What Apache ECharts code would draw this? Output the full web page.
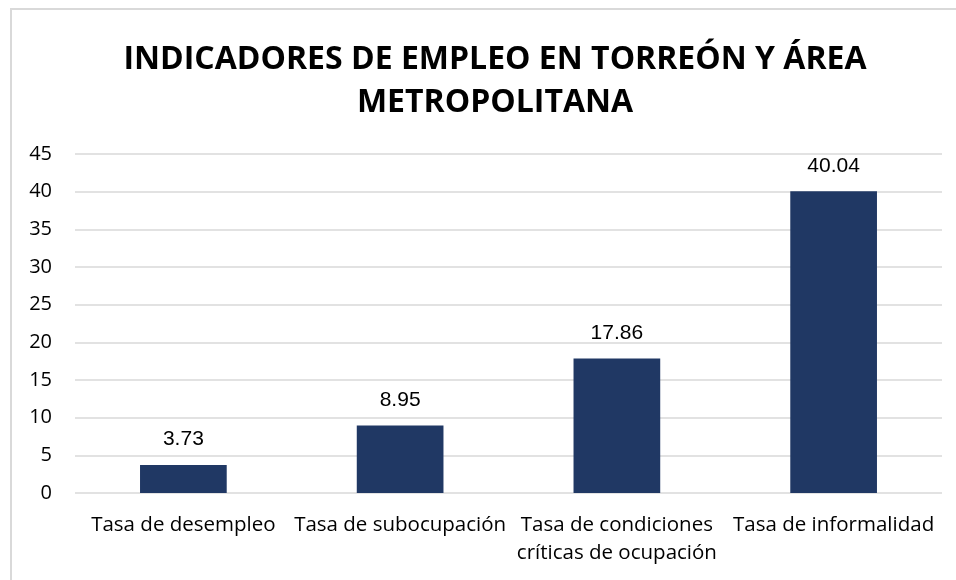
<!DOCTYPE html>
<head>
    <meta charset="utf-8">
    <title>ECharts</title>
    <script type="text/javascript" src="https://cdn.jsdelivr.net/npm/echarts@6/dist/echarts.min.js"></script>
    <style>
        body { margin: 0; background: #fff; }
        #main { width: 956px; height: 580px; }
    </style>
</head>

<body>
<div id="main"></div>

<script type="text/javascript">
    // datos del gráfico
    var categorias = ['Tasa de desempleo', 'Tasa de subocupación', 'Tasa de condiciones\ncríticas de ocupación', 'Tasa de informalidad'];
    var valores = [3.73, 8.95, 17.86, 40.04];

    var myChart = echarts.init(document.getElementById('main'));
    var option = {
        backgroundColor: '#fff',
        // marco gris del gráfico
        graphic: [{
            type: 'rect',
            shape: { x: 11, y: 9, width: 960, height: 600 },
            style: { fill: 'none', stroke: '#d9d9d9', lineWidth: 2 },
            silent: true
        }],
        title: {
            text: 'INDICADORES DE EMPLEO EN TORREÓN Y ÁREA\nMETROPOLITANA',
            left: 490,
            top: 33,
            textAlign: 'center',
            textStyle: {
                fontFamily: 'Open Sans',
                fontWeight: 'bold',
                fontSize: 32,
                lineHeight: 43,
                color: '#000'
            }
        },
        grid: {
            left: 75,
            right: 14,
            top: 154,
            bottom: 87
        },
        xAxis: {
            type: 'category',
            data: categorias,
            axisLine: { show: false },
            axisTick: { show: false },
            axisLabel: {
                fontFamily: 'Open Sans',
                fontSize: 20.5,
                color: '#000',
                lineHeight: 28,
                margin: 18,
                interval: 0
            }
        },
        yAxis: {
            type: 'value',
            min: 0,
            max: 45,
            interval: 5,
            axisLine: { show: false },
            axisTick: { show: false },
            splitLine: { lineStyle: { color: '#d9d9d9', width: 1.5 } },
            axisLabel: {
                fontFamily: 'Open Sans',
                fontSize: 20,
                color: '#000',
                margin: 23
            }
        },
        series: [{
            type: 'bar',
            data: valores,
            barWidth: '40%',
            itemStyle: { color: '#203864' },
            label: {
                show: true,
                position: 'top',
                distance: 15,
                fontFamily: 'Liberation Sans',
                fontSize: 21,
                color: '#000'
            }
        }]
    };
    myChart.setOption(option);
</script>
</body>
